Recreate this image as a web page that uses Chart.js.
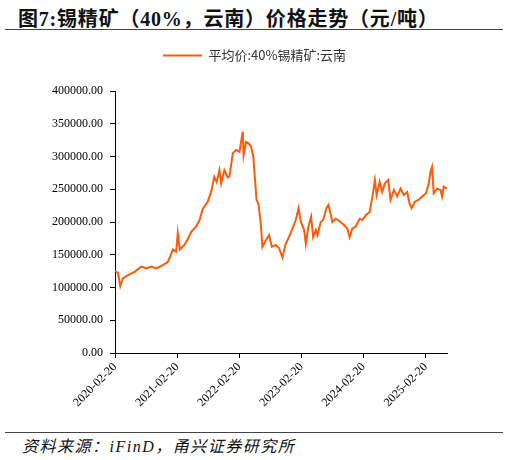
<!DOCTYPE html>
<html>
<head>
<meta charset="utf-8">
<script src="https://cdn.jsdelivr.net/npm/chart.js@4.4.1/dist/chart.umd.min.js"></script>
<style>
  body{margin:0;background:#fff;width:509px;height:460px;overflow:hidden;position:relative;font-family:"Liberation Serif","Noto Sans CJK SC",serif;}
  #titulo{position:absolute;left:18px;top:3px;font-size:20px;font-weight:bold;color:#111;white-space:nowrap;letter-spacing:0.8px;}
  .linea{position:absolute;left:5px;width:498px;height:1px;background:#444;}
  #fuente{position:absolute;left:22px;top:433px;font-size:16px;font-style:italic;color:#111;white-space:nowrap;letter-spacing:1.5px;}
  #caja{position:absolute;left:0;top:34px;width:509px;height:396px;}
</style>
</head>
<body>
<div id="titulo">图7:锡精矿（40%，云南）价格走势（元/吨）</div>
<div class="linea" style="top:29px"></div>
<div id="caja"><canvas id="grafico"></canvas></div>
<div class="linea" style="top:432px"></div>
<div id="fuente">资料来源：iFinD，甬兴证券研究所</div>
<script>
// fechas y precios (元/吨)
const fechas = [
  '2020-02-20','2020-03-08','2020-03-22','2020-04-06','2020-05-06','2020-06-14','2020-07-23','2020-08-22','2020-09-20','2020-10-19',
  '2020-11-27','2020-12-26','2021-01-05','2021-01-25','2021-02-14','2021-02-23','2021-03-07','2021-04-03','2021-04-23','2021-05-13',
  '2021-06-11','2021-07-01','2021-07-20','2021-08-18','2021-09-07','2021-09-26','2021-10-10','2021-10-26','2021-11-05','2021-11-24',
  '2021-12-14','2021-12-24','2022-01-13','2022-02-02','2022-02-21','2022-03-12','2022-03-17','2022-03-31','2022-04-16','2022-04-30',
  '2022-05-13','2022-05-25','2022-06-01','2022-06-12','2022-06-26','2022-07-06','2022-07-26','2022-08-14','2022-08-30','2022-09-22',
  '2022-10-12','2022-10-31','2022-11-20','2022-12-09','2022-12-29','2023-01-18','2023-02-03','2023-02-17','2023-03-08','2023-03-18',
  '2023-04-02','2023-04-18','2023-04-30','2023-05-16','2023-05-25','2023-06-14','2023-06-28','2023-07-17','2023-07-29','2023-08-12',
  '2023-08-21','2023-09-10','2023-10-09','2023-10-29','2023-11-17','2023-12-01','2023-12-16','2024-01-05','2024-01-29','2024-02-13',
  '2024-03-07','2024-03-27','2024-04-12','2024-04-27','2024-05-07','2024-05-25','2024-06-09','2024-06-25','2024-07-14','2024-07-28',
  '2024-08-17','2024-09-05','2024-09-25','2024-10-14','2024-11-03','2024-11-17','2024-11-29','2024-12-18','2025-01-10','2025-01-30',
  '2025-02-22','2025-03-10','2025-03-20','2025-03-29','2025-04-08','2025-04-28','2025-05-18','2025-05-27','2025-06-06','2025-06-25'
];
const precios = [
  125000,122600,102000,114000,119000,124000,131800,129000,131800,129000,
  134000,139000,144600,158000,155000,183000,158000,165000,174000,185000,
  193000,203000,220000,231000,246000,269000,261000,279000,259000,279000,
  268000,270000,305000,310000,307000,338000,302000,322000,320000,315000,
  300000,259000,234000,228000,198000,162000,172000,180000,162000,165000,
  160000,146000,167000,177000,190000,203000,221000,200000,188000,167000,
  193000,208000,177000,188000,180000,200000,203000,221000,226000,211000,
  200000,205000,200000,195000,190000,177000,190000,193000,205000,203000,
  211000,215000,238000,264000,241000,261000,246000,259000,264000,234000,
  249000,239000,251000,241000,246000,228000,221000,231000,234000,239000,
  244000,259000,277000,284000,244000,251000,249000,239000,254000,251000
];
const etiquetasX = ['2020-02-20','2021-02-20','2022-02-20','2023-02-20','2024-02-20','2025-02-20'];
const ticksY = [0,50000,100000,150000,200000,250000,300000,350000,400000];

const naranja = '#ff5a0a';
const puntos = fechas.map((f,i) => ({x: Date.parse(f), y: precios[i]}));
const valoresX = etiquetasX.map(f => Date.parse(f));

// la leyenda ocupa todo el ancho y deja hueco hasta el area del grafico
const ajusteLeyenda = {
  id: 'ajusteLeyenda',
  beforeLayout(chart){
    const l = chart.legend;
    if(l && !l._ajustado){
      const fitOrig = l.fit;
      l.fit = function(){ fitOrig.call(this); this.height = 57; };
      l._ajustado = true;
    }
  },
  afterLayout(chart){
    const l = chart.legend;
    l.left = 0; l.right = 509; l.width = 509;
  }
};

const ctx = document.getElementById('grafico');
const myChart = new Chart(ctx, {
  type: 'line',
  data: {
    datasets: [{
      label: '平均价:40%锡精矿:云南',
      data: puntos,
      borderColor: naranja,
      backgroundColor: naranja,
      borderWidth: 2,
      pointRadius: 0,
      tension: 0
    }]
  },
  options: {
    responsive: true,
    maintainAspectRatio: false,
    animation: false,
    layout: {padding: {top: 0, right: 62, left: 0, bottom: 0}},
    plugins: {
      tooltip: {enabled: false},
      legend: {
        position: 'top',
        labels: {
          boxWidth: 39,
          boxHeight: 2,
          padding: 15,
          color: '#333',
          font: {family: '"Noto Sans CJK SC"', size: 13},
          generateLabels: (chart) => Chart.defaults.plugins.legend.labels.generateLabels(chart).map(l => ({...l, lineWidth: 0}))
        }
      }
    },
    scales: {
      x: {
        type: 'linear',
        min: valoresX[0],
        max: Date.parse(fechas[fechas.length-1]),
        afterBuildTicks: (scale) => { scale.ticks = valoresX.map(v => ({value: v})); },
        afterFit: (scale) => { scale.height = 77; },
        border: {color: '#000', width: 1},
        grid: {display: true, drawOnChartArea: false, drawTicks: true, tickLength: 5, color: '#000'},
        ticks: {
          minRotation: 45, maxRotation: 45, autoSkip: false, padding: 2,
          color: '#000', font: {family: '"Liberation Serif"', size: 12},
          callback: (v) => { const i = valoresX.indexOf(v); return i >= 0 ? etiquetasX[i] : ''; }
        }
      },
      y: {
        min: 0, max: 400000,
        afterBuildTicks: (scale) => { scale.ticks = ticksY.map(v => ({value: v})); },
        afterFit: (scale) => { scale.width = 115; },
        border: {color: '#000', width: 1},
        grid: {display: true, drawOnChartArea: false, drawTicks: true, tickLength: 5, color: '#000'},
        ticks: {
          padding: 7, color: '#000', font: {family: '"Liberation Serif"', size: 12},
          callback: (v) => v.toFixed(2)
        }
      }
    }
  },
  plugins: [ajusteLeyenda]
});
</script>
</body>
</html>
